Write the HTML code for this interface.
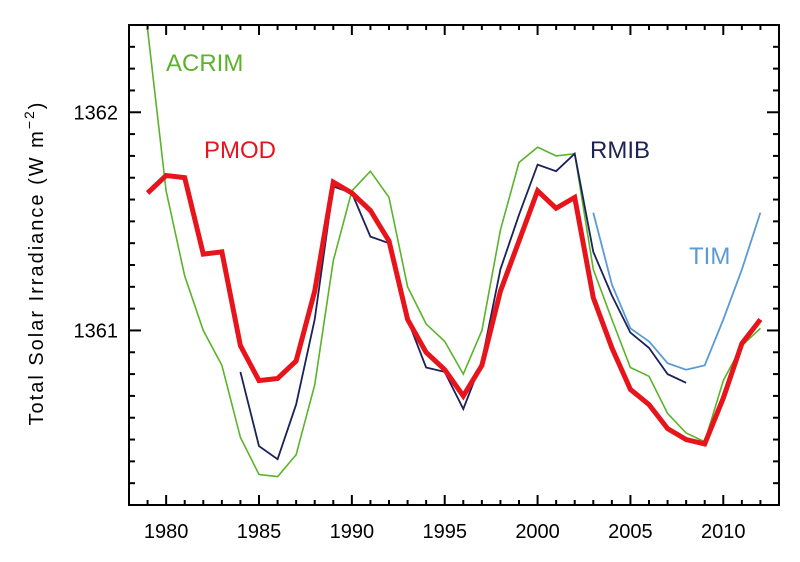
<!DOCTYPE html>
<html><head><meta charset="utf-8"><style>
html,body{margin:0;padding:0;background:#fff;}
svg{display:block;font-family:"Liberation Sans",sans-serif;}
</style></head><body>
<svg id="chart" width="800" height="562" viewBox="0 0 800 562">
<g id="axes"></g><g id="series"></g><g id="labels"></g>
</svg>
<script>
const years = [1979,1980,1981,1982,1983,1984,1985,1986,1987,1988,1989,1990,1991,1992,1993,1994,1995,1996,1997,1998,1999,2000,2001,2002,2003,2004,2005,2006,2007,2008,2009,2010,2011,2012];
const pmod = [1361.63,1361.71,1361.70,1361.35,1361.36,1360.93,1360.77,1360.78,1360.86,1361.18,1361.68,1361.63,1361.55,1361.41,1361.05,1360.90,1360.82,1360.70,1360.84,1361.18,1361.41,1361.64,1361.56,1361.61,1361.15,1360.92,1360.73,1360.66,1360.55,1360.50,1360.48,1360.69,1360.94,1361.05];
const acrim = [1362.38,1361.64,1361.25,1361.00,1360.84,1360.51,1360.34,1360.33,1360.43,1360.75,1361.32,1361.64,1361.73,1361.61,1361.20,1361.03,1360.95,1360.80,1361.00,1361.46,1361.77,1361.84,1361.80,1361.81,1361.28,1361.05,1360.83,1360.79,1360.62,1360.53,1360.49,1360.77,1360.93,1361.01];
const rmibYears = [1984,1985,1986,1987,1988,1989,1990,1991,1992,1993,1994,1995,1996,1997,1998,1999,2000,2001,2002,2003,2004,2005,2006,2007,2008];
const rmib = [1360.81,1360.47,1360.41,1360.66,1361.05,1361.66,1361.63,1361.43,1361.40,1361.05,1360.83,1360.81,1360.64,1360.86,1361.28,1361.53,1361.76,1361.73,1361.81,1361.36,1361.16,1360.99,1360.92,1360.80,1360.76];
const timYears = [2003,2004,2005,2006,2007,2008,2009,2010,2011,2012];
const tim = [1361.54,1361.21,1361.01,1360.95,1360.85,1360.82,1360.84,1361.05,1361.28,1361.54];
const xTickLabels = [1980,1985,1990,1995,2000,2005,2010];
const yTickLabels = [1361,1362];

const NS="http://www.w3.org/2000/svg";
const L=129,R=779,T=25,B=505;
const X0=1978,X1=2013,Y0=1360.2,Y1=1362.4;
function sx(v){return L+(v-X0)/(X1-X0)*(R-L);}
function sy(v){return B-(v-Y0)/(Y1-Y0)*(B-T);}
function mk(tag,attrs,parent){const e=document.createElementNS(NS,tag);for(const k in attrs)e.setAttribute(k,attrs[k]);parent.appendChild(e);return e;}
const axes=document.getElementById('axes'),ser=document.getElementById('series'),lab=document.getElementById('labels');

const frame=mk('rect',{x:L,y:T,width:R-L,height:B-T,fill:'none',stroke:'#000','stroke-width':2},axes);



for(let yr=X0+1;yr<X1;yr++){
  const major=yr%5===0,len=major?10:5,x=sx(yr);
  const t1=mk('line',{x1:x,x2:x,y1:B,y2:B-len,stroke:'#000','stroke-width':2},axes);
  
  
  const t2=mk('line',{x1:x,x2:x,y1:T,y2:T+len,stroke:'#000','stroke-width':2},axes);
  
  
}
for(let i=1;i<22;i++){
  const v=Y0+i*0.1,major=Math.abs(v-Math.round(v))<1e-6,len=major?12:6,y=sy(v);
  const t1=mk('line',{x1:L,x2:L+len,y1:y,y2:y,stroke:'#000','stroke-width':2},axes);
  
  
  const t2=mk('line',{x1:R,x2:R-len,y1:y,y2:y,stroke:'#000','stroke-width':2},axes);
  
  
}
xTickLabels.forEach(v=>{
  const t=mk('text',{x:sx(v),y:538,'text-anchor':'middle','font-size':20,fill:'#000'},axes);
  t.textContent=v;
  
  
});
yTickLabels.forEach(v=>{
  const t=mk('text',{x:118,y:sy(v)+7,'text-anchor':'end','font-size':20,fill:'#000'},axes);
  t.textContent=v;
  
  
});
const yt=mk('text',{x:0,y:0,transform:'translate(43,263) rotate(-90)','text-anchor':'middle','font-size':20,fill:'#000','letter-spacing':'2'},axes);
yt.innerHTML='Total Solar Irradiance (W m<tspan dy="-9" font-size="14">−2</tspan><tspan dy="9">)</tspan>';



function line(xs,vs,color,w,name){
  const pts=xs.map((x,i)=>sx(x).toFixed(1)+','+sy(vs[i]).toFixed(1)).join(' ');
  const p=mk('polyline',{points:pts,fill:'none',stroke:color,'stroke-width':w,'stroke-linejoin':'miter'},ser);
  
  
}
line(years,acrim,'#5bb32a',1.6,'acrim-line');
line(timYears,tim,'#5b9bd5',1.8,'tim-line');
line(rmibYears,rmib,'#1a2258',1.8,'rmib-line');
line(years,pmod,'#e8141c',5,'pmod-line');

function label(txt,x,y,color,name){
  const t=mk('text',{x:x,y:y,'font-size':24,fill:color},lab);
  t.textContent=txt;
  
  
}
label('ACRIM',166,71,'#5bb32a','acrim-label');
label('PMOD',204,158,'#e8141c','pmod-label');
label('RMIB',590,158,'#1a2258','rmib-label');
label('TIM',689,264,'#5b9bd5','tim-label');
</script>
</body></html>
